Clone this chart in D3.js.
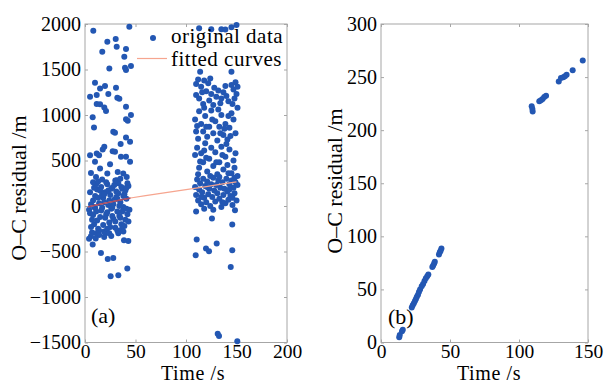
<!DOCTYPE html>
<html><head><meta charset="utf-8">
<script src="https://cdn.jsdelivr.net/npm/d3@7"></script>
<style>
html,body{margin:0;padding:0;background:#fff;}
text{font-family:"Liberation Serif","DejaVu Serif",serif;fill:#000;}
</style></head>
<body><svg id="c" width="608" height="384"></svg>
<script>
// ---------- Panel (a): original data ----------
const aTime = [
 8.2,43.9,22.1,30.4,17.1,31.4,40.6,38.9,24.1,39.6,45.5,40.6,9.9,14.9,19.8,30.7,5,11.6,23.1,32,34,11.6,14.9,19.1,20.8,40.6,45.5,7.6,40.6,42.3,8.9,28,29.7,40.6,44.6,35.3,19.1,17.5,27.4,29.7,5,11.6,13.9,9.9,24.8,35.6,40.6,44.6,5.9,14.9,22.1,32.4,37.9,41.3,10.9,31.4,
 4,5,6,7,8,9,10,11,12,13,14,15,16,17,18,19,20,21,22,23,24,25,26,27,28,29,30,31,32,33,34,35,36,37,38,39,40,41,42,43,44,
 5,6,8,9,10,11,12,13,14,15,16,17,18,19,20,21,22,23,24,25,26,27,28,29,30,31,32,33,34,35,36,37,38,39,40,41,42,43,11,14,20,26,33,36,30,17,8,13,35,41,7,22,27,32,38,24,19,9,
 5.9,7.6,15.8,22.5,28,41.9,25.4,33,42.9,38.6,10.6,4,19,
 113,125,135,150,145,114,145,139,
 110,112,115,118,120,122,125,128,130,132,135,137,140,142,145,147,149,150,151,146,113,117,123,127,134,110,139,116,148,124,
 109,111,113,115,117,119,121,123,125,127,129,131,133,135,137,139,141,143,145,147,149,151,112,118,126,132,138,144,120,134,142,110,
 109,111,113,115,117,119,121,123,125,127,129,131,133,135,137,139,141,143,145,147,149,151,112,118,124,130,136,142,148,120,140,114,
 109,110,111,112,113,114,115,116,117,118,119,120,121,122,123,124,125,126,127,128,129,130,131,132,133,134,135,136,137,138,139,140,141,142,143,144,145,146,147,148,149,150,151,110,118,127,136,146,115,133,121,143,148,
 110.6,109.6,119.8,122.8,130.4,125.7,148.5,145.8,145.8,144.3,131.4,132.7,150.8
];
const aResidual = [
 1926,1970,1805,1835,1695,1750,1725,1640,1512,1519,1538,1494,1354,1292,1318,1299,1200,1219,1230,1189,1178,1120,1117,1083,1043,1090,999,974,952,936,864,815,804,753,705,680,650,621,603,595,559,577,559,485,460,540,540,485,364,412,357,375,357,320,320,284,
 -40,-80,20,-150,60,-200,110,-60,180,-250,30,-120,210,-20,90,-280,150,-90,240,10,-180,120,-30,200,-140,70,-240,160,-60,250,-110,40,-200,190,-10,130,-150,80,-90,220,-40,
 150,-230,-100,200,-20,240,-160,90,-270,170,-50,130,-210,40,-130,260,-70,170,60,-230,190,-110,20,230,-170,100,-270,140,0,-130,210,-60,110,-220,170,-30,250,-170,-300,-320,-300,-330,-300,-260,280,290,260,270,300,200,-290,-250,-20,80,-280,-300,130,-10,
 -332,-424,-516,-582,-571,-688,-772,-761,-384,-376,-358,-360,-340,
 1953,1942,1942,1989,1964,1475,1475,1940,
 1340,1390,1310,1380,1260,1350,1230,1300,1200,1270,1180,1250,1210,1150,1330,1280,1360,1230,1310,1120,1180,1120,1160,1110,1130,1220,1320,1250,1180,1400,
 950,880,1040,900,820,990,760,870,1050,800,930,720,870,1000,780,900,730,860,1020,950,800,1080,740,1080,950,1060,850,770,870,800,990,820,
 560,640,420,580,480,690,380,520,640,440,590,350,480,650,400,540,450,620,360,500,580,330,350,610,330,480,560,360,420,530,680,490,
 210,120,290,60,180,250,20,150,300,90,220,40,270,130,190,0,240,100,310,170,50,230,140,280,80,200,-10,260,120,190,30,300,160,70,240,110,280,10,200,140,260,60,230,-60,-30,-40,40,90,100,320,210,180,310,
 -369,-541,-468,-497,-413,-138,-46,-204,-486,-670,-1403,-1429,-1487
];
// fitted curve (panel a)
const fitTime = [3,10,20,30,45,60,80,100,120,135,150];
const fitResidual = [-10,8,32,55,88,113,147,180,213,240,265];

// ---------- Panel (b) ----------
const bTime = [13.2,13.6,15.2,15.8,22.3,23.0,23.8,24.6,25.3,26.0,26.8,27.5,28.3,29.5,30.5,31.5,32.5,33.5,34.3,37.2,37.8,38.5,39.0,42.0,42.6,43.2,43.8,
 109.2,109.7,109.9,114.7,115.9,117.1,118.3,119.6,128.8,130.4,132.1,133.3,134.5,138.9,146.2];
const bResidual = [5,7,10.5,12,33,35,37,39,41,43,45,47.5,50,53,55,58,60.5,62.5,64,71,72.5,74.5,76,83,85,86.5,88.5,
 222.5,220,217.5,227.2,228.1,229.4,231.3,232.5,245.8,249.2,249.8,250.8,252.1,256.5,265.6];

// ticks
const aXTicks = [0,50,100,150,200];
const aYTicks = [-1500,-1000,-500,0,500,1000,1500,2000];
const bXTicks = [0,50,100,150];
const bYTicks = [0,50,100,150,200,250,300];

const legendLabels = ["original data","fitted curves"];
const yLabel = "O\u2013C residual /m";
const xLabel = "Time /s";

const dotColor = "#2357b3";
const fitColor = "#f6a58f";
const fitDark = "#a84a62";
const frameColor = "#a6a6a6";

const svg = d3.select("#c");
const fmt = v => v < 0 ? "\u2212" + Math.abs(v) : String(v);

function panel(cfg){
  const x = d3.scaleLinear().domain(cfg.xd).range([cfg.x0, cfg.x1]);
  const y = d3.scaleLinear().domain(cfg.yd).range([cfg.y1, cfg.y0]);
  const g = svg.append("g");
  g.append("rect").attr("x",cfg.x0).attr("y",cfg.y0).attr("width",cfg.x1-cfg.x0).attr("height",cfg.y1-cfg.y0)
   .attr("fill","none").attr("stroke",frameColor).attr("stroke-width",1);
  const ax = g.append("g").attr("transform",`translate(0,${cfg.y1})`)
    .call(d3.axisBottom(x).tickValues(cfg.xt).tickFormat(fmt).tickSizeInner(-3).tickSizeOuter(0).tickPadding(4));
  const ay = g.append("g").attr("transform",`translate(${cfg.x0},0)`)
    .call(d3.axisLeft(y).tickValues(cfg.yt).tickFormat(fmt).tickSizeInner(-3).tickSizeOuter(0).tickPadding(4));
  const at = g.append("g").attr("transform",`translate(0,${cfg.y0})`)
    .call(d3.axisTop(x).tickValues(cfg.xt).tickFormat("").tickSizeInner(-3).tickSizeOuter(0));
  const ar = g.append("g").attr("transform",`translate(${cfg.x1},0)`)
    .call(d3.axisRight(y).tickValues(cfg.yt).tickFormat("").tickSizeInner(-3).tickSizeOuter(0));
  [ax,ay,at,ar].forEach(a=>{
    a.select(".domain").remove();
    a.selectAll(".tick line").attr("stroke",frameColor);
    a.selectAll(".tick text").attr("font-family","Liberation Serif").attr("font-size",20).attr("fill","#000");
  });
  ax.selectAll(".tick text").attr("font-size",19.5).attr("dy",null)
    .each(function(){ d3.select(this).attr("y", 358 - cfg.y1); });
  g.append("text").attr("x",cfg.xlx).attr("y",379.6).attr("text-anchor","middle").attr("font-size",20).attr("letter-spacing",0.6).text(xLabel);
  g.append("text").attr("transform",`translate(${cfg.ylx},${cfg.yly}) rotate(-90)`).attr("text-anchor","middle")
    .attr("font-size",22).text(yLabel);
  return {x,y,g};
}

// Panel (a)
const A = panel({xd:[0,200], yd:[-1500,2000], x0:85, x1:287, y0:24, y1:342.5, xt:aXTicks, yt:aYTicks, ylx:26, yly:188, xlx:193});
A.g.selectAll("circle.pt").data(d3.range(aTime.length)).join("circle").attr("class","pt")
  .attr("cx",i=>A.x(aTime[i])).attr("cy",i=>A.y(aResidual[i])).attr("r",3).attr("fill",dotColor);
const fitLine = d3.line().x(i=>A.x(fitTime[i])).y(i=>A.y(fitResidual[i]));
A.g.append("path").attr("d",fitLine(d3.range(fitTime.length))).attr("fill","none").attr("stroke",fitColor).attr("stroke-width",1.2);
A.g.append("path").attr("d",fitLine(d3.range(fitTime.length).filter(i=>fitTime[i]<=45))).attr("fill","none").attr("stroke",fitDark).attr("stroke-width",1.4);
A.g.append("text").attr("x",91).attr("y",323).attr("font-size",22).text("(a)");
// legend
A.g.append("circle").attr("cx",153).attr("cy",38).attr("r",3).attr("fill",dotColor);
A.g.append("line").attr("x1",137).attr("x2",167).attr("y1",58.5).attr("y2",58.5).attr("stroke",fitColor).attr("stroke-width",1.2);
A.g.append("text").attr("x",171).attr("y",43).attr("font-size",21).attr("letter-spacing",0.5).text(legendLabels[0]);
A.g.append("text").attr("x",171).attr("y",66).attr("font-size",21).attr("letter-spacing",0.5).text(legendLabels[1]);

// Panel (b)
const B = panel({xd:[0,150], yd:[0,300], x0:381, x1:588, y0:24, y1:342.5, xt:bXTicks, yt:bYTicks, ylx:342, yly:181, xlx:489});
B.g.selectAll("circle.pt").data(d3.range(bTime.length)).join("circle").attr("class","pt")
  .attr("cx",i=>B.x(bTime[i])).attr("cy",i=>B.y(bResidual[i])).attr("r",3).attr("fill",dotColor);
B.g.append("text").attr("x",388).attr("y",324).attr("font-size",22).text("(b)");
</script></body></html>
